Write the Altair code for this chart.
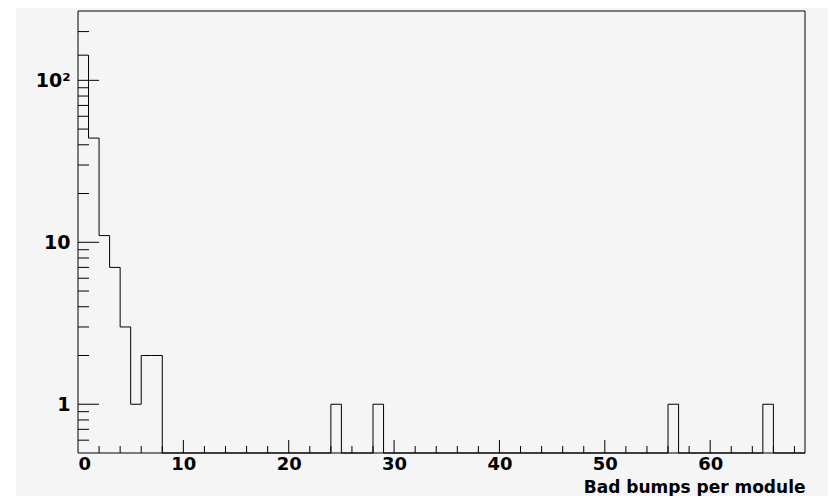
import altair as alt
import pandas as pd

# Histogram contents (non-empty bins, bin width 1, range 0..69)
bin_low = [0, 1, 2, 3, 4, 5, 6, 7, 24, 28, 56, 65]
counts = [143, 44, 11, 7, 3, 1, 2, 2, 1, 1, 1, 1]
x_min, x_max = 0, 69
y_min, y_max = 0.5, 268

x_major = [10, 20, 30, 40, 50, 60]
x_minor = [2, 4, 6, 8, 12, 14, 16, 18, 22, 24, 26, 28, 32, 34, 36, 38, 42, 44, 46, 48,
           52, 54, 56, 58, 62, 64, 66, 68]
y_major = [1, 10, 100]
y_minor = [0.6, 0.7, 0.8, 0.9, 2, 3, 4, 5, 6, 7, 8, 9, 20, 30, 40, 50, 60, 70, 80, 90, 200]

W, H = 727, 442
PAD_L, PAD_T, PAD_R = 70, 3, 23
PAD_B = 488 - PAD_T - H
BG = "#f5f5f5"
FONT = "DejaVu Sans"

# build step outline of the histogram
content = {b: c for b, c in zip(bin_low, counts)}
rows = []
k = 0
for b in range(x_min, x_max):
    v = content.get(b, 0)
    yv = v if v > 0 else y_min
    rows.append({"x": b, "y": yv, "k": k}); k += 1
    rows.append({"x": b + 1, "y": yv, "k": k}); k += 1
hist = pd.DataFrame(rows)

xscale = alt.Scale(domain=[x_min, x_max], nice=False, zero=False)
yscale = alt.Scale(type="log", domain=[y_min, y_max], nice=False, clamp=True)

xaxis = alt.Axis(values=[0] + x_major, ticks=False, domain=False, grid=False, zindex=2,
                 labelFont=FONT, labelFontSize=18, labelFontWeight="bold",
                 labelColor="black", labelPadding=2,
                 title="Bad bumps per module", titleFont=FONT, titleFontSize=17,
                 titleFontWeight="bold", titleColor="black",
                 titleAnchor="end", titleAlign="right", titleBaseline="alphabetic",
                 titleX=W, titleY=39)
yaxis = alt.Axis(values=y_major, ticks=False, domain=False, grid=False, zindex=2,
                 labelExpr="datum.value == 100 ? '10²' : datum.label",
                 labelFont=FONT, labelFontSize=19, labelFontWeight="bold",
                 labelColor="black", labelPadding=8, title="")

one = pd.DataFrame({"a": [0]})

# page-like grey background (starts 16px from the page's left edge)
backdrop = alt.Chart(one).mark_rect(color=BG, strokeWidth=0).encode(
    x=alt.value(-(PAD_L - 8)), x2=alt.value(W + PAD_R),
    y=alt.value(-PAD_T), y2=alt.value(H + PAD_B))

line = alt.Chart(hist).mark_line(color="black", strokeWidth=1, interpolate="linear").encode(
    x=alt.X("x:Q", scale=xscale, axis=xaxis),
    y=alt.Y("y:Q", scale=yscale, axis=yaxis),
    order="k:Q",
)

xmaj = alt.Chart(pd.DataFrame({"x": x_major})).mark_rule(color="black", strokeWidth=1).encode(
    x=alt.X("x:Q", scale=xscale, axis=xaxis), y=alt.value(H), y2=alt.value(H - 13))
xmin_ = alt.Chart(pd.DataFrame({"x": x_minor})).mark_rule(color="black", strokeWidth=1).encode(
    x=alt.X("x:Q", scale=xscale, axis=xaxis), y=alt.value(H), y2=alt.value(H - 7))
ymaj = alt.Chart(pd.DataFrame({"y": y_major})).mark_rule(color="black", strokeWidth=1).encode(
    y=alt.Y("y:Q", scale=yscale, axis=yaxis), x=alt.value(0), x2=alt.value(21))
ymin_ = alt.Chart(pd.DataFrame({"y": y_minor})).mark_rule(color="black", strokeWidth=1).encode(
    y=alt.Y("y:Q", scale=yscale, axis=yaxis), x=alt.value(0), x2=alt.value(11))

frame = alt.Chart(one).mark_rect(fillOpacity=0, stroke="black", strokeWidth=1).encode(
    x=alt.value(0), x2=alt.value(W), y=alt.value(0), y2=alt.value(H))

chart = alt.layer(backdrop, line, xmaj, xmin_, ymaj, ymin_, frame).properties(
    width=W, height=H,
    autosize=alt.AutoSizeParams(type="none"),
    padding={"left": PAD_L, "top": PAD_T, "right": PAD_R, "bottom": PAD_B},
    background="white",
).configure_view(fill=None, stroke=None)

chart.save("out.html", embed_options={"renderer": "svg", "actions": False})
